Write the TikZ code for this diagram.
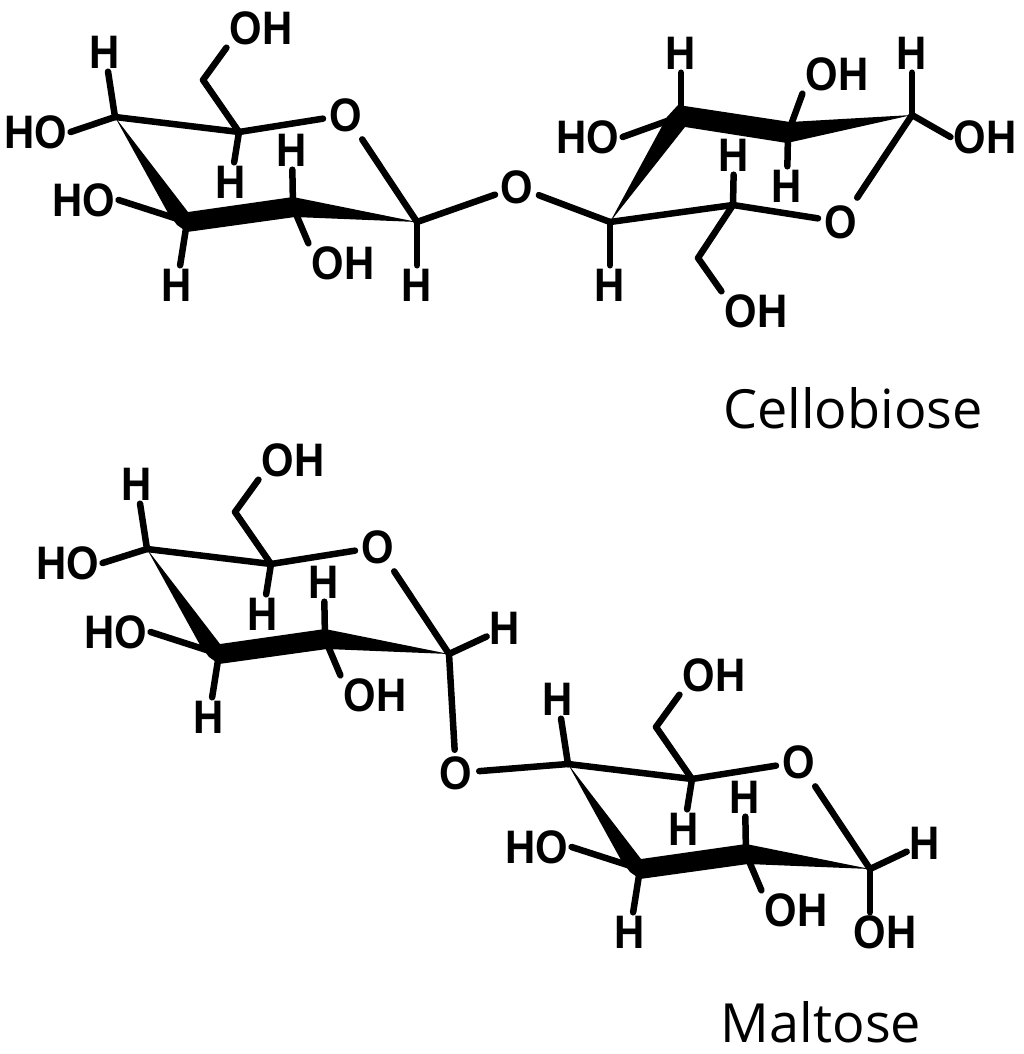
\documentclass[tikz,border=0pt]{standalone}
\usepackage{fontspec}
\setmainfont{Liberation Sans}
\newfontfamily\atomfont[FakeStretch=0.89]{Liberation Sans}
\newfontfamily\namefont{Open Sans}
\usetikzlibrary{calc}
\tikzset{
  bond/.style={line width=6.5pt, line cap=round, line join=round},
  atom/.style={font=\atomfont\fontsize{47}{47}\selectfont\bfseries, inner sep=3pt, text height=33pt, text depth=0pt},
  ringo/.style={atom, circle, inner sep=0pt, minimum size=38pt},
  molname/.style={font=\namefont\fontsize{54}{54}\selectfont, inner sep=0pt}
}
% one glucose ring, #1 = prefix, #2 = shift
\newcommand{\glucring}[2]{
\begin{scope}[shift={#2}, name prefix=#1-]
\coordinate (c4) at (115,117);
\coordinate (c5) at (239,132);
\coordinate (c1) at (417,222);
\coordinate (c2) at (293,207);
\coordinate (c3) at (187,222);
\coordinate (c6) at (203,80);
\node[ringo] (o)  at (346,115) {O};
\node[atom] (h4)  at (105,52)  {H};
\node[atom] (oh6) at (261,28)  {OH};
\node[atom] (h5)  at (231,182) {H};
\node[atom] (h2)  at (292,150) {H};
\node[atom] (ho3) at (84,200)  {HO};
\node[atom] (oh2) at (343,263) {OH};
\node[atom] (h3)  at (177,285) {H};
\fill[black] (c4) -- ($(c3)+(1,-10)$) -- ($(c2)+(0,-10)$) -- (c1) -- ($(c2)+(2,10)$)
  -- ($(c3)+(0,10)$) -- ($(c3)+(-10,3)$) -- ($(c3)+(-19,-9)$) -- cycle;
\draw[bond] (c4) -- (c5) -- (o);
\draw[bond] (c5) -- (c6) -- (oh6.south west);
\draw[bond, shorten <=6pt] (o) -- (c1);
\draw[bond] (c4) -- (h4);
\draw[bond] (c5) -- (h5);
\draw[bond] (c2) -- (h2);
\draw[bond] (c3) -- (ho3.east);
\draw[bond] (c2) -- (oh2.north west);
\draw[bond] (c3) -- (h3);
\end{scope}
}
\begin{document}
\begin{tikzpicture}[x=1pt, y=-1pt]
\useasboundingbox (0,0) rectangle (1024,1054);

% cellobiose, left ring
\glucring{a}{(0,0)}
\node[atom] (aho4) at (36,132) {HO};
\node[atom] (ah1) at (417,285) {H};
\draw[bond] (a-c4) -- (aho4.east);
\draw[bond] (a-c1) -- (ah1);

% cellobiose, right ring
\coordinate (bc1) at (610,222);
\coordinate (bc2) at (681,116);
\coordinate (bc3) at (788,133);
\coordinate (bc4) at (912,115);
\coordinate (bc5) at (733,205);
\coordinate (bc6) at (698,258);
\node[ringo] (bridge) at (517,187) {O};
\node[ringo] (bo) at (841,222) {O};
\node[atom] (bh1)  at (610,285) {H};
\node[atom] (bh2)  at (681,53)  {H};
\node[atom] (bho2) at (588,137) {HO};
\node[atom] (boh3) at (837,74)  {OH};
\node[atom] (bh3)  at (787,186) {H};
\node[atom] (bh4)  at (912,53)  {H};
\node[atom] (boh4) at (985,137) {OH};
\node[atom] (bh5)  at (734,155) {H};
\node[atom] (boh6) at (756,311) {OH};
\fill[black] (bc1) -- ($(bc2)+(-14,1)$) -- ($(bc2)+(-3,-11)$) -- ($(bc3)+(2,-11)$) -- (bc4)
  -- ($(bc3)+(-1,10)$) -- ($(bc2)+(4,11)$) -- cycle;
\draw[bond] (a-c1) -- (bridge);
\draw[bond] (bridge) -- (bc1);
\draw[bond] (bc1) -- (bc5) -- (bo);
\draw[bond, shorten >=6pt] (bc4) -- (bo);
\draw[bond] (bc5) -- (bc6) -- (boh6.north west);
\draw[bond] (bc1) -- (bh1);
\draw[bond] (bc2) -- (bh2);
\draw[bond] (bc2) -- (bho2.east);
\draw[bond] (bc3) -- (boh3.south west);
\draw[bond] (bc3) -- (bh3);
\draw[bond] (bc4) -- (bh4);
\draw[bond] (bc4) -- (boh4.west);
\draw[bond] (bc5) -- (bh5);
\node[molname] (cello) at (853,408) {Cellobiose};

% maltose
\glucring{m}{(32,432)}
\glucring{n}{(453,647)}
\node[atom] (mho4) at (68,563) {HO};
\node[atom] (mh1) at (505,628) {H};
\node[ringo] (link) at (456,773) {O};
\node[atom] (nh1) at (925,843) {H};
\node[atom] (noh1) at (885,932) {OH};
\draw[bond] (m-c4) -- (mho4.east);
\draw[bond] (m-c1) -- (mh1);
\draw[bond] (m-c1) -- (link);
\draw[bond] (link) -- (n-c4);
\draw[bond] (n-c1) -- (nh1);
\draw[bond] (n-c1) -- (n-c1 |- noh1.north);
\node[molname] (malt) at (821,1022) {Maltose};
\end{tikzpicture}
\end{document}
